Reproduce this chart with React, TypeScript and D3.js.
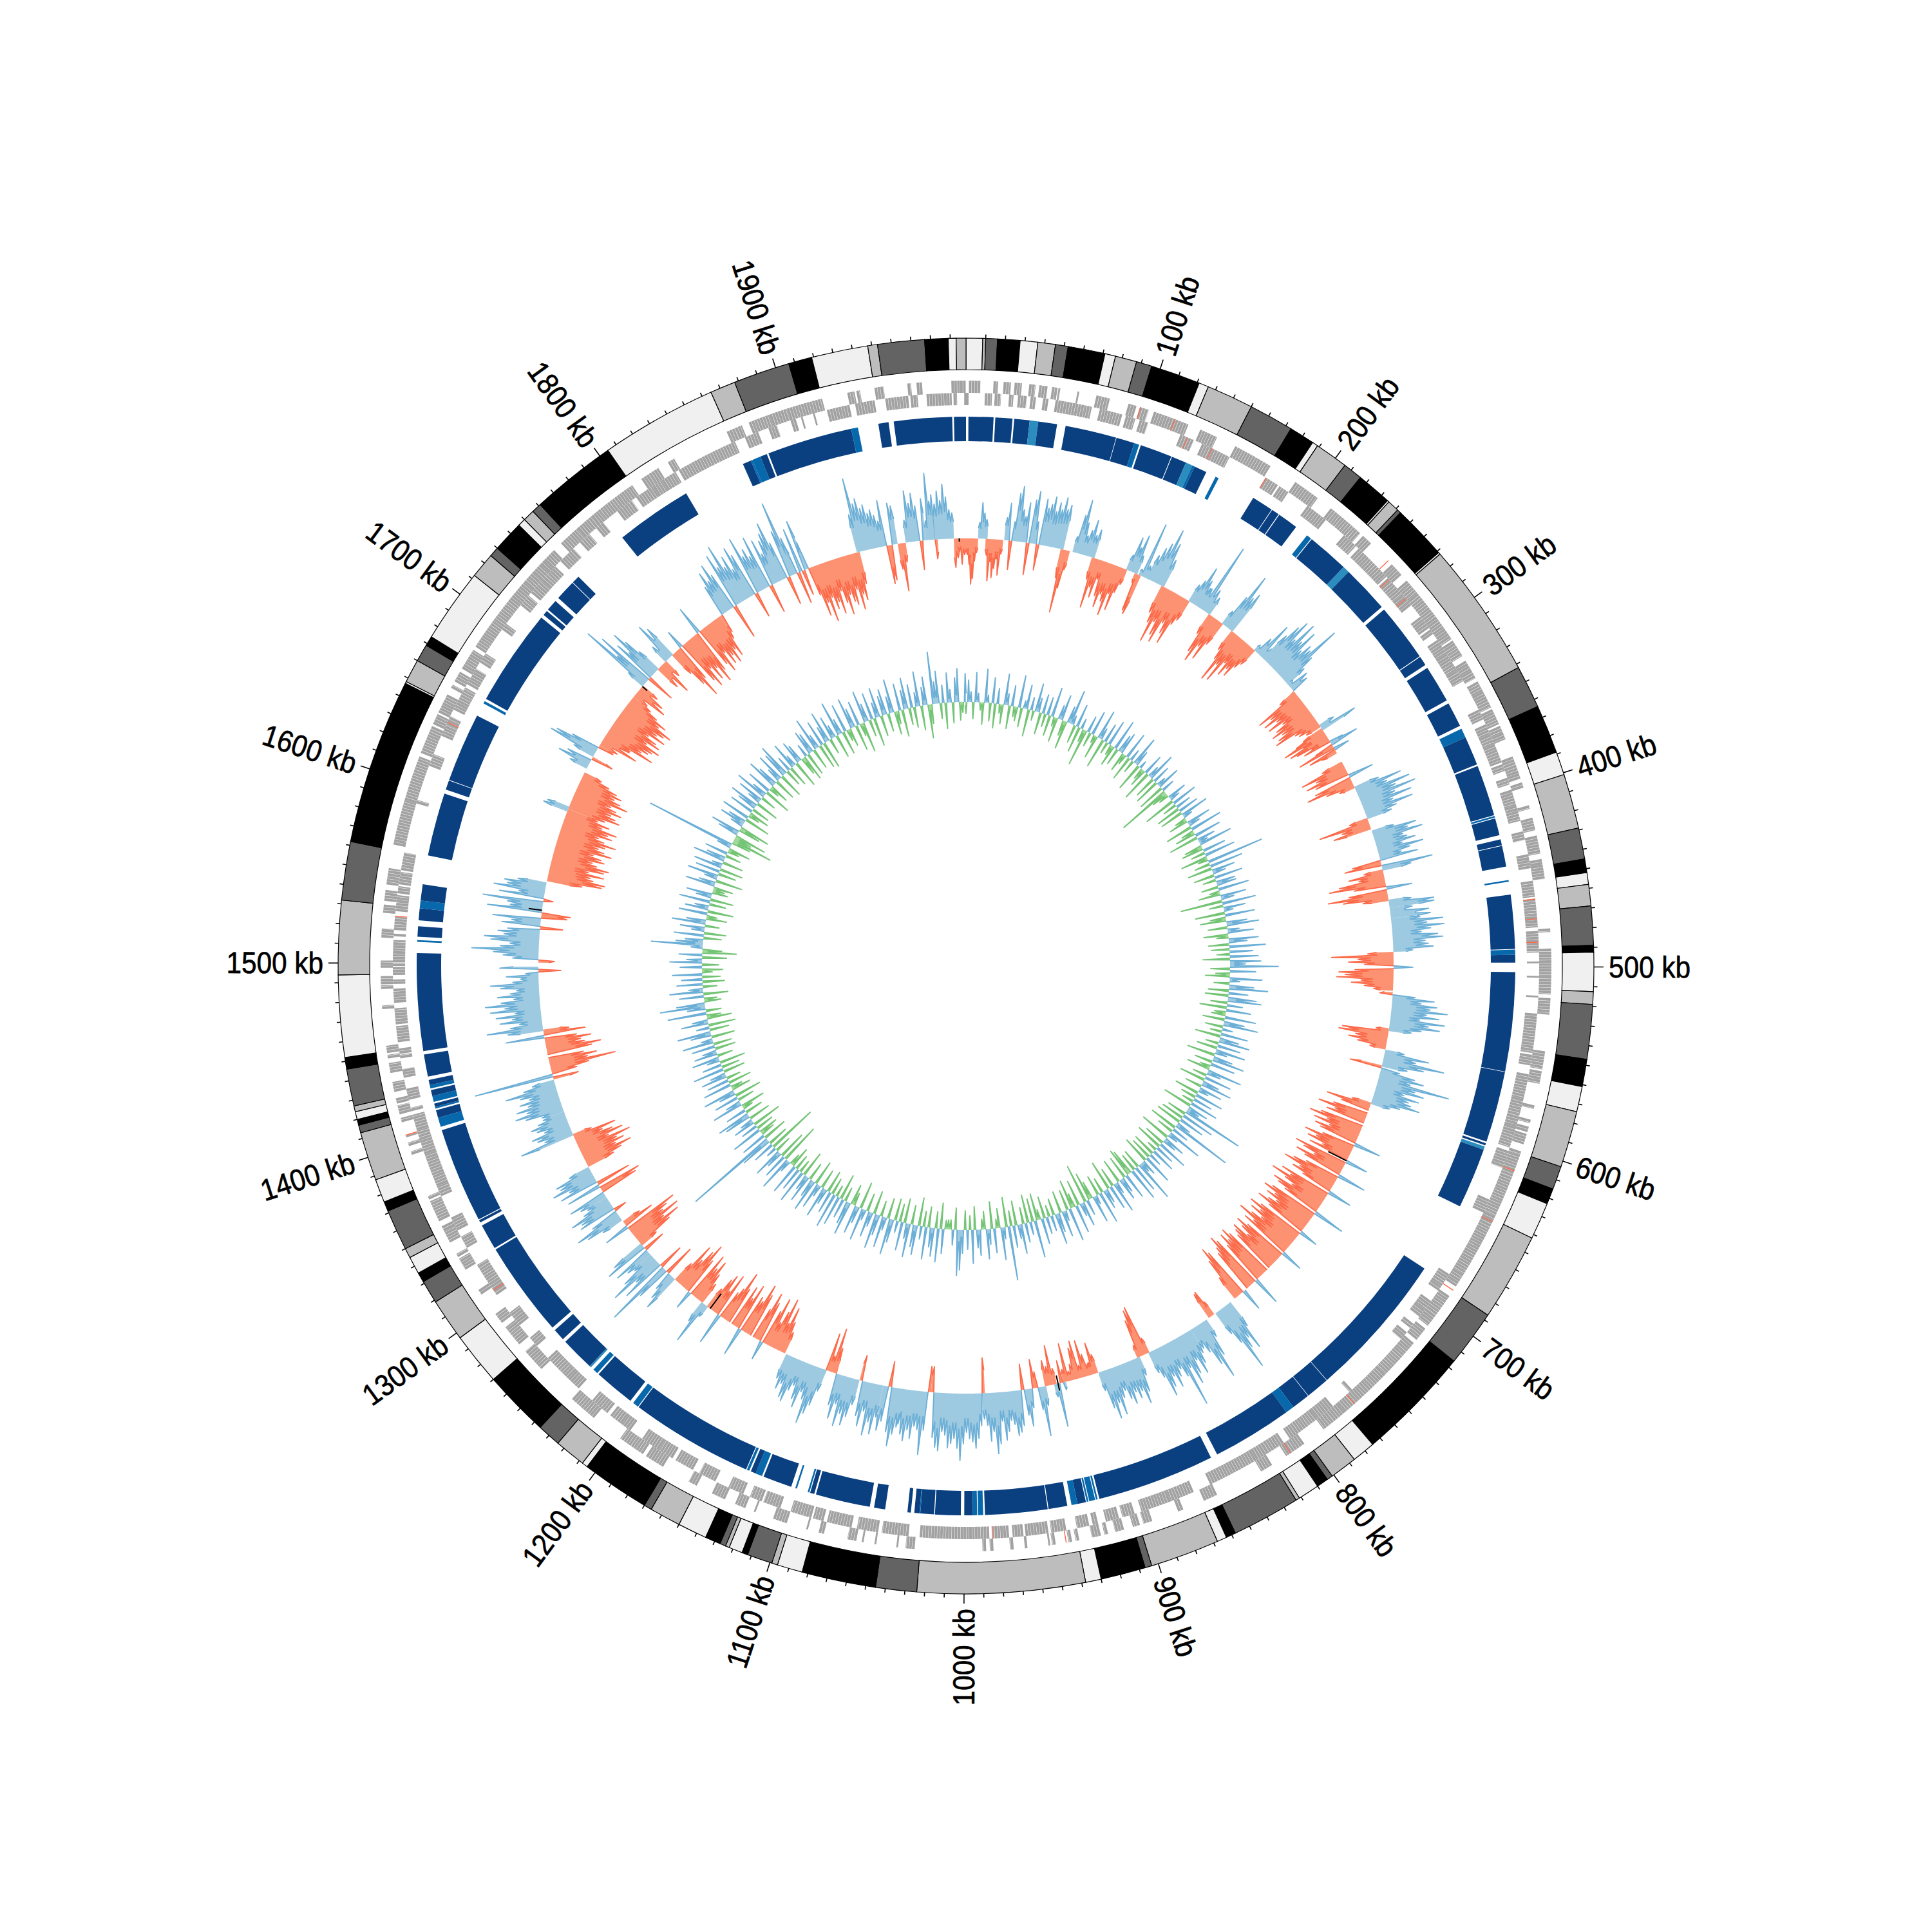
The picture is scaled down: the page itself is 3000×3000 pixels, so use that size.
import * as d3 from 'd3';

// genome length in kb
const GENOME_KB = 1998;
const tickLabels = [100, 200, 300, 400, 500, 600, 700, 800, 900, 1000, 1100, 1200, 1300, 1400, 1500, 1600, 1700, 1800, 1900];

// contig starts in kb, the shades cycle through contigShades
const contigStarts = [0, 8.5, 10, 16, 27.5, 36.5, 45.5, 52, 71, 76.5, 87.5, 95.5, 121, 126, 150, 173, 186, 189, 206, 216, 234, 235, 241, 243, 271, 272, 342, 364, 389, 401, 429, 445, 452, 458, 469, 489, 492.5, 512.5, 519, 547, 561, 574, 603, 615, 623, 642, 687, 716, 775, 787, 801, 804, 810, 821, 823, 858, 863, 868, 903.5, 907, 930, 938, 1024, 1045, 1083, 1096, 1099, 1112, 1115, 1122, 1124, 1127, 1135, 1150, 1166, 1170, 1205, 1208, 1224, 1236, 1270, 1297, 1319, 1331, 1336, 1345, 1350, 1371, 1376, 1388, 1413, 1417, 1420, 1424, 1427, 1446, 1452, 1494, 1532, 1562, 1647, 1648, 1660, 1669, 1674, 1712, 1725, 1730, 1746, 1750, 1756, 1761, 1805, 1865, 1878, 1907, 1919, 1948, 1953, 1977, 1989, 1993];
const contigShades = ['#f0f0f0', '#bdbdbd', '#636363', '#000000'];

// genes on both strands, [start, end] kb
const forwardGenes = [[1.6,8],[15,17.5],[20.5,24.5],[26.5,30.5],[34.5,38],[40,44.5],[47,50],[50.5,51.5],[61,62],[71.5,79],[89.5,94],[96,101],[104,124],[131,141],[152,174],[190,205],[214,235],[237,243],[259,267],[271,280],[280,296],[296,311],[312,322],[325,331],[331,336],[338,344],[344,354],[355,364],[365,369],[369,373],[383,388],[388,396],[398,401],[411,413],[418,425],[428,438],[441,444],[444,452],[479,481],[490,498],[498,505],[505,515],[517,526],[546,556],[557,564],[576,578],[584,586],[588,591],[592,598],[602,604],[604,617],[617,640],[640,645],[645,676],[676,684],[690,703],[703,710],[712,720],[722,745],[745,769],[769,775],[775,783],[783,790],[803,815],[824,831],[858,866],[878,881],[896,901],[903,907],[912,917],[921,923],[925,930],[937,939],[941,943],[950,952],[953,954],[965.5,967],[973,975],[984,986],[988,990],[1027,1032],[1036,1037],[1048,1049],[1055,1056],[1059,1064],[1077,1080],[1086,1087],[1098,1106],[1116,1117],[1122,1128],[1134,1142],[1151,1156],[1172,1183],[1185,1193],[1193,1200],[1218,1226],[1226,1234],[1257,1270],[1275,1287],[1290,1296],[1309,1312],[1325,1332],[1333,1335],[1342,1349],[1349,1352],[1355,1367],[1368,1370],[1394,1396],[1399,1401],[1404,1405],[1412.5,1415],[1417,1422],[1423,1426],[1429.5,1435],[1440,1445.5],[1448,1450],[1451,1455],[1475,1477],[1486,1488],[1488.5,1493],[1497.5,1501.5],[1514,1519],[1527.5,1532],[1534,1540],[1543,1552],[1565,1590],[1590,1615],[1617,1633],[1634,1640],[1641,1652],[1656,1658],[1660,1666],[1668,1680],[1682,1717],[1717,1726],[1726,1733],[1733,1739],[1739,1742],[1742,1750],[1755,1767],[1767,1777],[1777,1793],[1793,1805],[1811,1816],[1816,1822],[1828,1832],[1864,1869],[1869,1873],[1877,1889],[1889,1899],[1899,1919],[1933,1937],[1938,1940],[1948,1953],[1966,1968],[1971,1974],[1990,1998]];
const reverseGenes = [[0,1.5],[10.5,14.5],[16,19.5],[24,26.5],[29,34],[36,39],[43,46],[50,70.5],[75,88],[90,95.5],[98,103],[122,130],[135,140],[140,152],[175,183],[184,190],[203,216],[229,238],[240,262],[263,275],[275,283],[291,299],[300,303],[307,316],[316,321],[321,327],[327,334],[352,358],[361,367],[367,373],[373,384],[385,389],[393,397],[400,409],[409,418],[424,429],[437,445],[452,461],[462,474],[474,478],[480,492],[497,498],[505,506],[516,517],[526,548],[549,555],[560,574],[574,584],[584,590],[590,602],[604,614],[633,641],[680,688],[688,691],[698,704],[704,709],[714,717],[720,725],[764,766],[778,789],[789,808],[812,822],[822,830],[830,859],[869,883],[883,900],[904,911],[913,920.5],[925,928],[930,937],[943,951.5],[953,966],[967,973],[975,984],[986,1025],[1031,1046],[1048,1060],[1063,1077],[1079,1085],[1086,1098],[1104,1114],[1115,1122],[1126,1135],[1143,1153],[1157,1168],[1170,1179],[1179,1190],[1198,1204],[1204,1212],[1214,1225],[1235,1243],[1243,1259],[1268,1274],[1283,1292],[1304,1324],[1335,1342],[1346,1354],[1367,1373],[1373,1392],[1392,1397],[1397,1406],[1406,1415],[1417,1419],[1423.5,1430],[1436,1441],[1447,1449],[1449.5,1452.5],[1456,1465],[1466,1475],[1478,1486],[1488.5,1491],[1493.5,1498],[1498.5,1500],[1500.5,1513],[1515,1516.5],[1518.5,1526],[1529,1538],[1539,1543],[1544,1551],[1552,1562],[1590,1592],[1612,1619],[1630,1637],[1637,1642],[1646,1660],[1662,1672],[1676,1678],[1678,1682],[1698,1702],[1715,1722],[1724,1733],[1733,1744],[1748,1758],[1763,1770],[1775,1780],[1790,1800],[1803,1814],[1814,1820],[1820,1829],[1831,1866],[1872,1880],[1886,1891],[1899,1902],[1905,1906],[1912,1913],[1920,1933],[1936,1947],[1953,1966],[1967,1971],[1976,1990],[1991,1993],[1997,1998]];
// highlighted genes, [kb, strand] with 1 = forward and 0 = reverse
const markedGenes = [[96,1],[116,1],[126,0],[141,0],[175,0],[256,1],[264,0],[278,0],[462,0],[473,0],[486,0],[613,1],[643,1],[686,1],[768,1],[812,1],[944,1],[984,0],[1307,0],[1405,1],[1526,0],[1638,0]];

// blue ring blocks, [start, end, tone]
const blockTones = ['#0a3f80', '#0868ac', '#2b8cbe'];
const blocks = [[1.4,16,0],[17,27,0],[28,37,0],[37,42,2],[42,53,0],[58,88,0],[88.3,99,0],[99,102,1],[103,121.8,0],[122.2,131,0],[131,135,2],[135,136.5,1],[136.5,144,0],[150,152,1],[175,187.6,0],[188,192.5,0],[193,205,0],[213,216,1],[216.5,241,0],[241,245,2],[245,273,0],[275,309,0],[309.5,315,0],[317,339,0],[341,355.6,0],[357.5,363,1],[363,380,0],[381,411,0],[411.5,412.5,1],[413,423,0],[425.5,429,0],[429.4,441.6,0],[449.5,450.5,1],[458,489.6,0],[490,493,1],[493,497.5,0],[503,561,0],[561.3,603,0],[604,605.3,0],[606,608,2],[608,643.5,0],[685,771,0],[771.3,785,0],[785.3,796,0],[796,801,1],[801,848,0],[852,921,0],[922,923,1],[923.5,927,1],[927.5,928.5,1],[929,934,0],[934,937.5,1],[940,951,0],[951.5,988,0],[989,992,1],[992.5,995,1],[995,1000,0],[1002,1017,0],[1017.5,1025.5,0],[1025.5,1026,1],[1026,1029,0],[1031,1033,0],[1046,1052.5,0],[1055,1087,0],[1088,1090.5,0],[1091,1092,1],[1098.5,1099.5,1],[1102,1119,0],[1120,1124,1],[1124,1127,0],[1128,1129.5,1],[1130,1202,0],[1202.5,1206,1],[1208,1232,0],[1233,1236,1],[1238,1239,2],[1239,1259,0],[1261,1268,0],[1270,1326,0],[1327,1342,0],[1344,1345.5,0],[1346,1402,0],[1404,1409.5,1],[1409.5,1414,0],[1415,1416,1],[1416,1418,0],[1419,1422.5,1],[1422.5,1426,0],[1427,1429,1],[1429,1432,0],[1434,1447,0],[1449,1506,0],[1512.5,1513.5,1],[1515.5,1521.5,0],[1525,1532,0],[1532,1536.5,1],[1536.5,1546,0],[1563,1600,0],[1602.5,1608,0],[1608.4,1649,0],[1657,1658.5,1],[1660,1717,0],[1719,1722,0],[1723,1729.6,0],[1732,1744,0],[1744.4,1749,0],[1783,1828,0],[1865,1870,0],[1870,1871,1],[1871,1876,1],[1876,1880,0],[1881,1931,0],[1931,1935,1],[1947,1953,0],[1956,1990,0],[1991,1998,0]];

// GC content stretches, [start, end, deviations]; positive goes out, negative goes in
const gcStretches: [number, number, number[]][] = [
  [1, 8, [-25,-40,-71,-62,-35,-22]],
  [10, 15, [25,56,40,30]],
  [15.6, 26.7, [-25,-65,-35,-60,-45,-30,-55,-22]],
  [29.4, 72, [35,58,-45,30,75,86,50,40,62,-50,68,82,35,-40,72,58,65,78,55,70,60,80,62,70]],
  [72, 77, [-45,-99,-60,-30]],
  [81, 88, [25,60,85,50,30]],
  [88, 96, [30,40,58,35,45]],
  [96, 122, [-35,-79,-45,-60,-30,-55,-72,-50,-60,-81,-45,-70,-40,-25]],
  [123, 130, [25,55,40,62,30]],
  [130, 133, [-15,-60,-65]],
  [133, 140, [10,88,20,40]],
  [140, 152, [40,55,65,91,70,45]],
  [152, 174, [-45,-60,-90,-55,-75,-85,-50,-65,-80,-45,-35]],
  [175, 183, [30,40,65,45,35]],
  [184, 192, [35,113,40,30]],
  [193, 204, [-35,-65,-79,-50,-70,-40]],
  [205, 213, [25,55,96,60,70]],
  [214, 235, [-35,-50,-86,-55,-82,-45,-65,-50,-60,-40,-30]],
  [236, 244, [12,30,60,20]],
  [245, 270, [50,72,86,55,90,60,82,50,65,60,107,55,35]],
  [271, 279, [10,33,28,-20]],
  [279, 310, [-30,-74,-55,-70,-50,-68,-45,-60,-70,-55,-65,-72,-40,-35,-25]],
  [310, 313, [25,60]],
  [313, 333, [-35,-50,-72,-40,-65,-55,-30,-45,22,45,-30,-60,25,-45,-25]],
  [342, 362, [-35,-72,-50,-68,-55,40,-60,-75,-45,-25]],
  [363, 387, [40,75,50,85,60,91,55,80,48,78,50,40]],
  [388, 395, [-30,-80,-45,-60]],
  [398, 427, [35,70,55,77,45,50,62,40,72,50,35,60,-45,-58,80,45]],
  [428, 450, [-30,-55,-40,-72,-88,-50,40,-60,-93,-70,-40]],
  [451, 455, [35,70,70]],
  [457, 463, [35,60,62]],
  [465, 488, [45,80,55,81,60,45,70,78,50,55,62,30]],
  [490, 517, [-40,-96,-55,-70,-45,30,-60,-85,-75,-88,-50,-65,-45,-30]],
  [520, 547, [-20,35,65,45,70,60,87,55,75,45,85,60,78,50,35]],
  [547, 561, [-20,-72,-77,-50,-60,-45,-25]],
  [563, 574, [30,70,50,96,65,40]],
  [575, 603, [-50,30,55,70,50,113,60,75,45,70,55,60,75,45,30]],
  [604, 782, [-30,-70,-45,0,-55,-78,-50,-62,0,-68,-85,-55,-75,-48,-70,-60,42,-52,-80,-60,-72,-45,-65,35,-85,-70,-50,-78,-62,45,-55,-75,-88,-60,-70,-50,38,-82,-65,-95,-70,-55,-85,-75,-60,50,-78,-90,-68,-80,-60,-72,-88,-65,30,-75,-92,-70,-85,-62,-78,-98,-68,-82,35,-70,-88,-75,-60,-85,-78,-70,0,-80,-92,-75,-88,-70,45,-85,-95,-78,-70,0,35,-80,-90,-70,-40]],
  [788, 800, [45,82,60,75,108,60,40]],
  [803, 806, [-25,-45,-43]],
  [810, 822, [30,60,95,70,45,35]],
  [824, 858, [40,55,70,45,65,80,50,111,60,45,55,70,50,65,78,45,35]],
  [859, 867, [-25,-79,-75,-60,-20]],
  [867, 898, [30,55,72,50,60,48,65,55,40,50,75,55,78,60,30]],
  [900, 904, [-30,-50,-20]],
  [905, 925, [-18,-35,-58,-20,-60,-50,-25,-15,-60,-20]],
  [925, 932, [12,-35,68,20]],
  [932, 939, [-25,-62,-30,-40]],
  [940, 986, [30,77,35,-25,-45,30,58,40,-40,55,65,70,52,45,62,75,45,80,95,60,75,50,40]],
  [986, 1024, [-55,50,70,85,75,70,60,78,104,85,70,78,85,65,60,90,85,70,-40]],
  [1026, 1046, [-40,60,98,60,55,75,62,80,70,55]],
  [1047, 1060, [60,72,91,70,-40,55,70]],
  [1062, 1078, [50,78,60,82,45,70,55,-40]],
  [1080, 1098, [40,60,75,58,79,45,70,50,-40]],
  [1098, 1106, [-30,-70,-25,-60,30]],
  [1106, 1136, [35,60,75,92,55,45,72,60,40,50,70,65,45,55,40]],
  [1139, 1205, [-35,-50,-72,-45,-83,-60,-40,-78,-55,30,-65,-79,-50,0,-70,-85,-55,-60,45,-75,-50,-68,0,-60,-85,-55,-45,50,-70,-40,-65,-55,-35]],
  [1206, 1210, [20,69,35]],
  [1211, 1236, [-35,-50,-70,-55,-75,30,-60,-85,-70,-50,-72,-35]],
  [1238, 1262, [60,45,30,-50,55,107,-40,70,45,85,60,35]],
  [1264, 1273, [45,62,-35,70,55]],
  [1273, 1294, [-30,-60,-80,-55,-85,-60,-70,-86,40,-50,-30]],
  [1297, 1316, [35,60,75,45,-20,60,55,70,45,35]],
  [1318, 1342, [45,60,-60,-68,55,-55,62,45,70,55,60,35]],
  [1344, 1369, [-45,-60,-78,-55,-70,-60,-84,-50,-75,-60,-45,-68,-30]],
  [1370, 1387, [86,45,55,62,40,50,58,45,35]],
  [1389, 1412, [35,60,75,55,70,50,62,45,58,80,50,35]],
  [1414, 1450, [-40,124,-40,-60,-103,-60,-75,-55,0,-70,-85,-60,-55,-72,-50,60,-65,-40]],
  [1451, 1497, [55,87,50,35,65,45,70,40,78,55,85,60,40,65,45,35,60,75,40,28,50,20,-35,60]],
  [1502, 1560, [-25,40,55,70,104,60,45,75,85,55,65,50,-35,60,45,75,-40,-45,85,50,55,94,-15,70,40,80,60,65,45]],
  [1563, 1617, [-55,-85,-89,-70,-65,-85,-60,-83,-90,-70,-62,-80,-74,-60,-88,-75,-65,-74,-90,-70,-60,-80,-72,-85,-60,-70,-50]],
  [1617, 1619, [40,35]],
  [1619, 1647, [-60,-82,-74,-65,-80,-70,-60,-85,-72,-60,-70,-60,-45,-30]],
  [1652, 1660, [30,52,40,-35]],
  [1662, 1670, [35,78,70,45,-25]],
  [1672, 1678, [-30,-60,-45]],
  [1679, 1714, [-45,-82,-60,-70,-75,-85,-60,-80,-72,-55,-82,-65,-75,-85,-60,-70,-50,-35]],
  [1716, 1725, [-25,-53,-45,-30]],
  [1726, 1742, [30,117,60,95,-45,70,50,85,65,40]],
  [1743, 1750, [-40,-55,-30]],
  [1751, 1757, [30,66,55]],
  [1758, 1802, [-40,-65,-90,-60,30,-72,-85,-55,-78,-60,-88,-70,45,-65,-80,-50,-72,-60,-75,-55,-68,-40]],
  [1804, 1868, [-30,50,72,55,80,60,-55,88,65,99,60,75,50,85,70,-40,93,60,70,55,85,-45,75,50,70,80,95,60,-45,75,120,50]],
  [1868, 1876, [60,-50,70,-40,80]],
  [1877, 1917, [44,-45,-80,-60,-92,-55,-75,-65,-85,-50,-70,-90,-60,-72,-78,-55,-88,-65,-75,-50]],
  [1917, 1946, [60,116,75,82,65,70,55,60,50,40,72,-60,-55,65,60]],
  [1948, 1952, [-40,-75,-30]],
  [1954, 1967, [35,80,60,75,55,-45,65]],
  [1969, 1976, [30,104,60,70,-30]],
  [1976, 1988, [55,75,60,85,65,45,40]],
  [1990, 1992, [-45,-30]],
  [1993, 1997, [-20,-40,-25]],
];
// short black pieces on the GC track, [kb, from, to]
const gcBlackMarks = [[650,0,-32],[930,-13,11],[1203,0,-29],[1540,0,21],[1725,0,-10],[1993,-5,0]];

// GC skew, one row of values per 100 kb
const skewRows = [
  [-18,34,16,-26,46,14,-12,-34,52,12,-28,40,-38,24,-14,-30,48,18,-36,32,-16,-22,50,-30,12,38,-42,20,-15,44,22,-34,30,-20],
  [28,-32,46,-14,-38,22,40,-24,-44,26,54,14,-28,36,-40,16,-20,-57,26,-22,38,-12,-36,46,18,-46,30,-18,40,-16,-32,48,-26,28],
  [34,-30,-16,42,-38,18,-20,46,24,-44,12,-18,-28,32,-48,18,44,-34,28,-40,14,36,-42,20,-84,-26,-16,30,16,-50,40,-22,24,-38],
  [32,-36,44,14,-18,-30,38,18,-42,50,-20,-32,42,-46,28,14,52,-28,-34,36,-22,48,-42,-16,89,-24,52,-38,36,20,-32,44,-20,30],
  [30,-26,48,-16,-34,40,20,-65,52,-22,34,14,-46,46,-24,-40,32,50,-30,18,40,-38,-18,46,28,-32,56,-28,36,-20,44,-42,48,24],
  [75,-30,40,-22,-38,50,16,-24,38,60,-32,30,-36,44,52,-26,24,-42,38,-18,-22,48,-34,32,54,-28,16,-18,42,-40,30,48,-20,36],
  [-32,46,18,-44,30,50,-28,38,-16,-36,54,22,-22,42,-40,26,48,-26,36,16,-38,44,-24,30,-18,44,-46,32,20,96,-30,52,-36,40],
  [-40,22,95,-44,26,-26,55,16,-48,34,22,-32,48,-42,30,-16,38,-36,20,-34,46,-42,24,16,65,-30,42,-28,52,-40,-45,40,-36,24],
  [34,-38,18,48,-30,38,-46,22,30,-24,50,-32,14,42,-28,-44,24,-61,38,20,-40,44,-22,-45,52,-32,16,40,-34,30,48,-26,24,-18],
  [26,-34,40,-16,-42,58,-36,20,-44,30,-26,46,22,-38,34,-24,84,-46,18,50,-30,-14,38,-42,24,46,-28,-16,40,28,-36,52,-22,30],
  [-30,36,62,71,-34,24,-15,-15,-14,38,-40,52,-26,44,30,-32,50,-24,20,-44,46,34,-30,52,24,-38,44,-28,18,-34,36,56,-32,20],
  [48,-24,32,54,-36,22,40,-28,16,50,-42,26,44,-20,-32,52,36,-22,30,-40,46,-18,54,-26,34,-34,24,48,-30,18,40,-38,50,28],
  [-28,42,24,-40,52,-20,36,-24,48,-32,-18,18,54,-63,38,-44,26,46,-26,16,-78,34,-32,50,146,-38,40,-22,-30,48,-28,26,-46,34],
  [20,-34,42,52,-28,32,-16,-38,48,24,-26,38,-42,26,50,-30,-18,44,-36,34,-22,40,24,-34,48,-28,30,-40,20,42,-24,36,22,-32],
  [36,-28,48,18,-36,32,52,-30,20,-42,42,24,-38,-22,60,-24,28,70,44,-26,-20,38,-38,52,22,-22,40,-34,32,-28,46,-16,-32,34],
  [-26,50,24,-38,36,-53,-30,18,80,42,28,-28,46,-34,20,38,-22,52,30,-32,-16,44,-40,36,22,-26,48,-36,24,40,-24,-18,-30,46],
  [26,-42,20,48,-28,38,-36,44,16,-32,50,30,-24,36,-18,-34,22,141,-30,-64,-28,-50,32,46,-34,-48,20,40,28,-40,44,-18,-32,38],
  [-28,30,46,-36,20,40,-24,50,24,-42,38,-16,-30,48,32,-34,22,44,-38,40,52,-26,24,-32,42,18,-42,36,28,-28,-40,20,-36,38],
  [32,-32,52,22,-38,40,-42,26,48,-24,36,20,-36,54,24,-36,44,-18,-28,48,30,-40,38,-20,-47,50,28,-26,42,-44,24,46,-32,30],
  [40,-28,26,52,-36,-20,42,-42,30,48,-26,36,-32,22,54,-38,28,44,-52,-30,81,34,50,-24,28,-40,46,20,-32,38,52,-28,-16,44],
];

const CX = 1500;
const CY = 1500;

const angle = d3.scaleLinear().domain([0, GENOME_KB]).range([0, 2 * Math.PI]);
const gcRadius = d3.scaleLinear().domain([-100, 100]).range([564, 764]);
const skewRadius = d3.scaleLinear().domain([-100, 100]).range([310, 510]);

type Pt = { kb: number; v: number };

// draws each value as a narrow spike; same-signed neighbours share a filled base
function spikeParts(pts: Pt[], halfWidth: number, baseShare: number) {
  const parts: Pt[][] = [];
  let cur: Pt[] = [];
  pts.forEach((p, i) => {
    if (p.v === 0) return;
    const prev = pts[i - 1];
    const next = pts[i + 1];
    const base = (o?: Pt) => {
      if (!o) return baseShare * p.v;
      return o.v * p.v > 0 ? Math.sign(p.v) * baseShare * Math.min(Math.abs(o.v), Math.abs(p.v)) : 0;
    };
    cur.push({ kb: p.kb - halfWidth, v: base(prev) }, p, { kb: p.kb + halfWidth, v: base(next) });
    if (!next || next.v * p.v <= 0) {
      parts.push(cur);
      cur = [];
    }
  });
  return parts;
}

function Track({ pts, radius, up, down, halfWidth, baseShare, width }: {
  pts: Pt[];
  radius: d3.ScaleLinear<number, number>;
  up: string[];
  down: string[];
  halfWidth: number;
  baseShare: number;
  width: number;
}) {
  const area = d3.areaRadial<Pt>()
    .angle((d) => angle(d.kb))
    .innerRadius(radius(0))
    .outerRadius((d) => radius(d.v));
  const line = d3.lineRadial<Pt>()
    .angle((d) => angle(d.kb))
    .radius((d) => radius(d.v));
  return (
    <>
      {spikeParts(pts, halfWidth, baseShare).map((part, i) => {
        const [fill, stroke] = part.some((d) => d.v > 0) ? up : down;
        return (
          <g key={i}>
            <path d={area(part) ?? ''} fill={fill} />
            <path d={line(part) ?? ''} fill="none" stroke={stroke} strokeWidth={width} strokeLinejoin="round" />
          </g>
        );
      })}
    </>
  );
}

export default function App() {
  const arc = d3.arc<any>();
  const band = (start: number, end: number, inner: number, outer: number) =>
    arc({ startAngle: angle(start), endAngle: angle(end), innerRadius: inner, outerRadius: outer }) ?? '';
  // stroked centre line of a gene run, the dashes leave the thin gaps between genes
  const geneLine = d3.lineRadial<number[]>().angle((d) => d[0]).radius((d) => d[1]);
  const genePath = (start: number, end: number, r: number) =>
    geneLine(d3.range(start, end + 0.5, 0.5).map((k) => [angle(Math.min(k, end)), r])) ?? '';

  const contigEnds = [...contigStarts.slice(1), GENOME_KB];
  const minorTicks = d3.range(10, GENOME_KB, 10).filter((k) => k % 100 !== 0);
  const skewStep = 100 / skewRows[0].length;
  const skewPts = skewRows.flat().map((v, i) => ({ kb: i * skewStep, v }));
  const blackLine = d3.lineRadial<number[]>().angle((d) => d[0]).radius((d) => d[1]);

  return (
    <svg width={3000} height={3000} style={{ position: 'absolute', left: 0, top: 0, background: '#fff' }}>
      <g transform={`translate(${CX},${CY})`}>
        {/* GC skew */}
        <Track pts={skewPts} radius={skewRadius} up={['#9ecae1', '#6baed6']} down={['#a1d99b', '#74c476']} halfWidth={1} baseShare={0.3} width={1.9} />

        {/* GC content */}
        {gcStretches.map(([start, end, values], i) => (
          <Track
            key={i}
            pts={values.map((v, j) => ({ kb: start + (j * (end - start)) / (values.length - 1), v }))}
            radius={gcRadius}
            up={['#9ecae1', '#6baed6']}
            down={['#fc9272', '#fb6a4a']}
            halfWidth={1}
            baseShare={0.65}
            width={1.8}
          />
        ))}
        {gcBlackMarks.map(([kb, from, to], i) => (
          <path
            key={i}
            d={blackLine([[angle(kb), gcRadius(from)], [angle(kb), gcRadius(to)]]) ?? ''}
            stroke="#000"
            strokeWidth={2}
          />
        ))}

        {/* blocks */}
        {blocks.map(([start, end, tone], i) => (
          <path key={i} d={band(start, end, 815, 853)} fill={blockTones[tone]} />
        ))}

        {/* genes */}
        {forwardGenes.map(([start, end], i) => (
          <path key={i} d={genePath(start, end, 899.5)} fill="none" stroke="#a2a2a2" strokeWidth={19} strokeDasharray="4 0.5" />
        ))}
        {reverseGenes.map(([start, end], i) => (
          <path key={i} d={genePath(start, end, 880.5)} fill="none" stroke="#a2a2a2" strokeWidth={19} strokeDasharray="4 0.5" />
        ))}
        {markedGenes.map(([kb, strand], i) => (
          <path
            key={i}
            d={strand ? band(kb, kb + 0.5, 890, 909) : band(kb, kb + 0.5, 871, 890)}
            fill="#fb6a4a"
          />
        ))}

        {/* contigs */}
        {contigStarts.map((start, i) => (
          <path
            key={i}
            d={band(start, contigEnds[i], 926, 975)}
            fill={contigShades[i % contigShades.length]}
            stroke="#000"
            strokeWidth={1.2}
          />
        ))}

        {/* ticks */}
        {minorTicks.map((k) => (
          <line
            key={k}
            transform={`rotate(${(angle(k) * 180) / Math.PI - 90})`}
            x1={975}
            x2={981}
            stroke="#000"
            strokeWidth={1.6}
          />
        ))}
        {tickLabels.map((k) => {
          const deg = (angle(k) * 180) / Math.PI;
          const left = deg > 180;
          return (
            <g key={k}>
              <line transform={`rotate(${deg - 90})`} x1={975} x2={990} stroke="#000" strokeWidth={1.6} />
              <text
                transform={(left ? `rotate(${deg + 90}) translate(-998,0)` : `rotate(${deg - 90}) translate(998,0)`) + ' scale(0.9,1)'}
                textAnchor={left ? 'end' : 'start'}
                dominantBaseline="central"
                fontFamily="'Liberation Sans', sans-serif"
                fontSize={47}
                fill="#000"
                stroke="#000"
                strokeWidth={0.7}
              >
                {k} kb
              </text>
            </g>
          );
        })}
      </g>
    </svg>
  );
}
